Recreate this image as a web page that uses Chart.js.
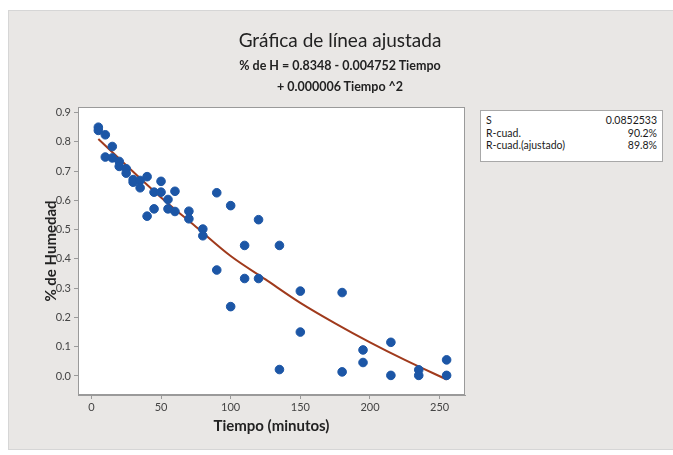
<!DOCTYPE html>
<html>
<head>
<meta charset="utf-8">
<script src="https://cdn.jsdelivr.net/npm/chart.js@4"></script>
<style>
  body { margin: 0; background: #ffffff; }
  #wrap { position: relative; width: 673px; height: 455px; }
  #panel { position: absolute; left: 8px; top: 10px; width: 664px; height: 438px;
           background: #e9e7e5; border: 1px solid #d6d6d6; }
  #grafico { position: absolute; left: 0; top: 0; }
  #titulos { position: absolute; left: 8px; width: 664px; top: 27px; text-align: center;
             font-family: Lato, sans-serif; color: #222; }
  #titulos .t1 { font-size: 19px; line-height: 26px; margin-bottom: 2px; }
  #titulos .t2 { font-size: 12.5px; font-weight: bold; line-height: 21px; }
  #resumen { position: absolute; left: 480px; top: 110px; width: 181px; height: 50px;
             background: #fff; border: 1px solid #a8a8a8; font: 10.5px Lato, sans-serif; color: #1a1a1a; }
  #resumen table { border-collapse: collapse; margin: 3px 5px 0 5px; width: 171px; }
  #resumen td { padding: 0; line-height: 12.5px; }
  #resumen td.v { text-align: right; }
</style>
</head>
<body>
<div id="wrap">
  <div id="panel"></div>
  <canvas id="grafico" width="673" height="455"></canvas>
  <div id="titulos"></div>
  <div id="resumen">
    <table>
      <tr><td>S</td><td class="v">0.0852533</td></tr>
      <tr><td>R-cuad.</td><td class="v">90.2%</td></tr>
      <tr><td>R-cuad.(ajustado)</td><td class="v">89.8%</td></tr>
    </table>
  </div>
</div>
<script>
// valores
const tiempo = [5, 5, 10, 10, 15, 15, 20, 20, 25, 25, 30, 30, 35, 35, 40, 40, 45, 45, 50, 50,
                55, 55, 60, 60, 70, 70, 80, 80, 90, 90, 100, 100, 110, 110, 120, 120, 135, 135,
                150, 150, 180, 180, 195, 195, 215, 215, 235, 235, 255, 255];
const humedad = [0.850, 0.839, 0.824, 0.748, 0.784, 0.745, 0.733, 0.716, 0.708, 0.693,
                 0.671, 0.662, 0.668, 0.643, 0.681, 0.546, 0.628, 0.571, 0.665, 0.628,
                 0.603, 0.571, 0.631, 0.562, 0.563, 0.537, 0.502, 0.479, 0.626, 0.362,
                 0.582, 0.237, 0.446, 0.333, 0.534, 0.333, 0.446, 0.022, 0.290, 0.150,
                 0.285, 0.014, 0.089, 0.046, 0.115, 0.002, 0.021, 0.002, 0.055, 0.002];

const ajusteX = [5, 25, 50, 75, 100, 125, 150, 175, 200, 225, 255];
const ajusteY = [0.81, 0.72, 0.61, 0.51, 0.41, 0.33, 0.25, 0.18, 0.115, 0.055, -0.012];

const ticksX = [0, 50, 100, 150, 200, 250];
const ticksY = [0.0, 0.1, 0.2, 0.3, 0.4, 0.5, 0.6, 0.7, 0.8, 0.9];

const titulo = 'Gráfica de línea ajustada';
const subtitulo = ['% de H = 0.8348 - 0.004752 Tiempo', '+ 0.000006 Tiempo ^2'];

const fuente = 'Lato, sans-serif';
const gris = '#9a9a9a';

const cajaTitulos = document.getElementById('titulos');
const t1 = document.createElement('div');
t1.className = 't1';
t1.textContent = titulo;
cajaTitulos.appendChild(t1);
subtitulo.forEach(linea => {
  const d = document.createElement('div');
  d.className = 't2';
  d.textContent = linea;
  cajaTitulos.appendChild(d);
});

const marcoPlot = {
  id: 'marcoPlot',
  beforeDraw(chart) {
    const { ctx, chartArea: a } = chart;
    ctx.save();
    ctx.fillStyle = '#ffffff';
    ctx.fillRect(a.left, a.top, a.right - a.left, a.bottom - a.top);
    ctx.restore();
  },
  afterDraw(chart) {
    const { ctx, chartArea: a } = chart;
    ctx.save();
    ctx.strokeStyle = gris;
    ctx.lineWidth = 1;
    ctx.strokeRect(a.left + 0.5, a.top + 0.5, a.right - a.left - 1, a.bottom - a.top - 1);
    ctx.restore();
  }
};

const puntos = tiempo.map((t, i) => ({ x: t, y: humedad[i] }));
const linea = ajusteX.map((t, i) => ({ x: t, y: ajusteY[i] }));

new Chart(document.getElementById('grafico'), {
  type: 'scatter',
  data: {
    datasets: [
      {
        type: 'line',
        data: linea,
        borderColor: '#a03a1c',
        borderWidth: 2,
        pointRadius: 0,
        cubicInterpolationMode: 'monotone',
        order: 2
      },
      {
        data: puntos,
        backgroundColor: '#1c56a6',
        borderColor: '#1c56a6',
        pointRadius: 4.3,
        order: 1
      }
    ]
  },
  options: {
    responsive: false,
    animation: false,
    layout: { padding: { left: 38, right: 208, top: 107, bottom: 16 } },
    plugins: {
      legend: { display: false },
      tooltip: { enabled: false }
    },
    scales: {
      x: {
        type: 'linear',
        min: -9.6,
        max: 268.2,
        afterBuildTicks: s => { s.ticks = ticksX.map(v => ({ value: v })); },
        afterFit: s => { s.height = 44; },
        grid: { drawOnChartArea: false, drawTicks: true, tickLength: 4, color: gris },
        border: { color: gris },
        ticks: { color: '#444', font: { family: fuente, size: 11 }, padding: 2 },
        title: {
          display: true,
          text: 'Tiempo (minutos)',
          color: '#222',
          font: { family: fuente, size: 15, weight: 'bold' },
          padding: { top: 2 }
        }
      },
      y: {
        min: -0.065,
        max: 0.919,
        afterBuildTicks: s => { s.ticks = ticksY.map(v => ({ value: v })); },
        afterFit: s => { s.width = 40; },
        grid: { drawOnChartArea: false, drawTicks: true, tickLength: 4, color: gris },
        border: { color: gris },
        ticks: {
          color: '#444',
          font: { family: fuente, size: 11 },
          padding: 3,
          callback: v => Number(v).toFixed(1)
        },
        title: {
          display: true,
          text: '% de Humedad',
          color: '#222',
          font: { family: fuente, size: 15, weight: 'bold' },
          padding: { bottom: 2 }
        }
      }
    }
  },
  plugins: [marcoPlot]
});
</script>
</body>
</html>
